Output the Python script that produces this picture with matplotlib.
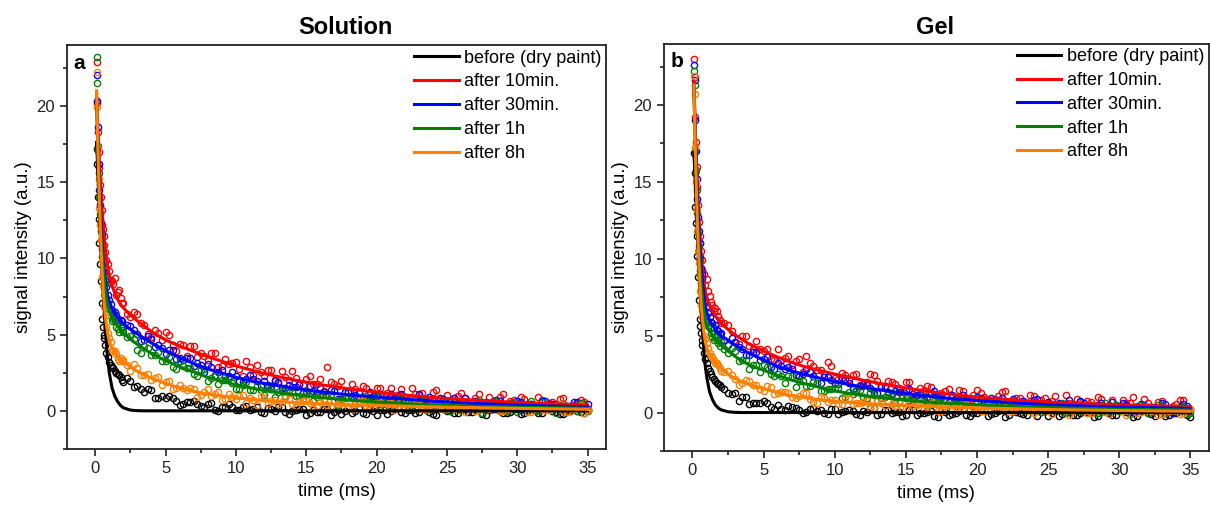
import numpy as np
import matplotlib.pyplot as plt
from matplotlib.ticker import MultipleLocator

plt.rcParams['font.family'] = ['Liberation Sans', 'DejaVu Sans']

labels = ['before (dry paint)', 'after 10min.', 'after 30min.', 'after 1h', 'after 8h']
colors = ['#000000', '#ff0000', '#0000ff', '#008000', '#ff8000']

# times of measured points (ms): two interleaved sets, dense at the start
t_early = [0.1, 0.15, 0.2, 0.3, 0.4, 0.5, 0.6, 0.7, 0.8, 1.0, 1.2, 1.4, 1.6, 1.8]
t_pts = np.concatenate([t_early, np.arange(2.0, 35.01, 0.5)])
t_early2 = [0.25, 0.35, 0.45, 0.55, 0.65, 0.9, 1.1, 1.3, 1.5, 1.7, 1.9]
t_pts2 = np.concatenate([t_early2, np.arange(2.25, 34.76, 0.5)])

t_fit = [0.1, 0.2, 0.3, 0.4, 0.5, 0.6, 0.7, 0.8, 0.9, 1.0, 1.2, 1.4, 1.6, 1.8, 2.0,
         2.5, 3, 3.5, 4, 5, 6, 7, 8, 10, 12, 14, 16, 18, 20, 23, 26, 30, 35]

# ---- Solution: measured points (set 1 on t_pts, set 2 on t_pts2) ----
sol_black = [17.2, 16.2, 14.0, 11.0, 8.5, 6.0, 5.0, 4.3, 3.8, 3.2, 2.9, 2.6, 2.4, 2.2,
             1.88, 1.98, 1.6, 1.25, 1.35, 0.85, 0.85, 0.87, 0.37, 0.61, 0.67, 0.3, 0.47, 0.07,
             0.27, 0.46, 0.03, 0.22, 0.08, 0.26, -0.13, 0.12, 0.25, -0.08, 0.02, 0.1, -0.27,
             0.07, -0.1, 0.15, -0.05, -0.2, 0.2, 0.0, -0.13, 0.13, -0.25, 0.05, -0.03, 0.17,
             -0.17, 0.03, -0.1, 0.1, -0.23, 0.2, 0.0, -0.15, 0.07, -0.07, 0.15, -0.2, 0.03,
             0.13, -0.13, -0.05, 0.1, -0.17, 0.1, -0.13, 0.17, -0.03, -0.23, 0.05, 0.2, -0.1, 0.03]
sol_black2 = [12.6, 9.6, 7.1, 5.5, 4.8, 3.5, 3.0, 2.8, 2.45, 2.35, 2.0,
              2.17, 1.59, 1.45, 1.4, 0.87, 1.0, 0.98, 0.63, 0.42, 0.61, 0.43, 0.25, 0.49, 0.02,
              0.25, 0.26, 0.03, 0.31, 0.11, -0.08, 0.17, -0.01, 0.24, -0.19,
              0.03, 0.1, -0.17, -0.05, 0.13, -0.27, 0.05, 0.0, -0.13, 0.2, -0.2, -0.03, 0.07,
              -0.23, 0.15, -0.07, 0.03, -0.15, 0.17, -0.05, -0.25, 0.1, 0.0, -0.17, 0.13, -0.1,
              0.05, -0.3, 0.1, -0.03, -0.13, 0.15, -0.2, 0.03, 0.07, -0.15, 0.2, -0.07, -0.23,
              0.05, 0.0, -0.17]
sol_red = [22.9, 20.2, 18.3, 15.9, 14.0, 12.2, 11.5, 10.4, 9.9, 9.2, 8.5, 8.7, 7.8, 7.4,
           7.05, 6.15, 6.35, 5.6, 4.85, 5.1, 5.15, 4.35, 4.4, 3.6, 4.25, 3.8, 3.35, 3.8, 2.95,
           3.1, 3.2, 2.3, 2.85, 3.0, 2.3, 2.65, 1.85, 2.25, 2.6, 1.7, 2.08, 1.75, 2.07, 2.85,
           1.73, 1.95, 1.25, 1.44, 1.63, 0.83, 1.47, 1.07, 1.52, 1.07, 0.73, 1.49, 1.05, 0.76,
           1.23, 0.45, 1.01, 0.83, 1.2, 0.47, 0.84, 0.57, 0.94, 0.27, 1.1, 0.67, 0.35, 0.78,
           0.46, 0.9, 0.18, 0.61, 0.79, 0.28, 0.41, 0.7, 0.13]
sol_red2 = [17.0, 14.8, 13.2, 11.9, 10.9, 9.6, 8.6, 8.3, 7.6, 7.9, 7.1,
            6.32, 6.5, 5.77, 5.07, 5.3, 4.67, 5.0, 3.95, 4.3, 4.27, 3.55, 3.62, 3.82, 2.87,
            3.37, 3.12, 2.72, 3.25, 2.32, 2.55, 2.65, 1.95, 2.6, 2.05, 2.15, 1.71, 2.29, 1.76,
            1.28, 1.91, 1.64, 1.22, 1.77, 1.26, 1.5, 0.75, 1.49, 1.19, 0.94, 1.45, 0.71, 1.12,
            1.18, 0.7, 1.36, 0.78, 0.45, 0.96, 0.83, 0.45, 1.13, 0.5, 0.63, 0.91, 0.18, 0.71,
            0.89, 0.42, 0.2, 0.74, 0.52, 0.27, 0.84, -0.03, 0.5, 0.59]
sol_blue = [22.0, 20.3, 18.6, 14.5, 12.3, 10.6, 9.8, 8.6, 8.1, 7.3, 6.6, 6.5, 6.0, 5.95,
            5.52, 5.56, 5.05, 4.65, 4.7, 4.3, 3.74, 4.0, 3.46, 3.48, 2.96, 2.99, 3.1, 2.35,
            2.67, 2.26, 2.3, 1.92, 2.32, 1.94, 1.94, 1.44, 1.9, 1.47, 1.57, 1.78, 1.16, 1.31,
            1.53, 1.13, 1.33, 0.78, 1.26, 1.05, 0.83, 1.25, 1.0, 0.61, 1.08, 0.76, 0.91, 0.55,
            1.09, 0.74, 0.36, 0.82, 0.48, 0.87, 0.62, 0.15, 0.66, 0.46, 0.23, 0.7, 0.26, 0.46,
            0.63, 0.04, 0.45, 0.26, 0.67, 0.45, 0.04, 0.32, 0.59, 0.16, 0.46]
sol_blue2 = [16.2, 13.5, 11.6, 10.3, 9.1, 7.6, 7.0, 6.4, 6.3, 5.8, 5.9,
             5.66, 5.27, 4.58, 4.88, 4.18, 4.11, 4.01, 3.4, 3.33, 3.45, 3.11, 2.55, 2.88, 2.53,
             2.3, 2.58, 1.97, 2.12, 2.09, 1.6, 1.72, 2.03, 1.47, 1.71, 1.56, 1.19, 1.62, 1.18,
             1.26, 1.38, 0.77, 1.21, 0.96, 1.24, 0.77, 0.98, 1.09, 0.56, 0.81, 1.1, 0.61, 0.81,
             0.64, 0.93, 0.37, 0.77, 0.6, 0.32, 0.86, 0.39, 0.54, 0.59, 0.11, 0.66, 0.39, 0.2,
             0.58, 0.45, 0.06, 0.64, 0.24, 0.48, 0.08, 0.31, 0.55, 0.11]
sol_green = [23.2, 21.5, 17.4, 14.0, 11.8, 10.1, 8.8, 8.3, 7.2, 6.7, 5.9, 5.9, 5.4, 5.5,
             5.14, 4.94, 3.99, 4.25, 3.67, 3.84, 3.3, 2.86, 3.3, 2.8, 2.43, 2.68, 1.93, 2.26,
             1.99, 2.16, 1.45, 1.68, 1.39, 1.62, 1.02, 1.64, 1.25, 0.95, 1.25, 0.96, 1.27, 0.66,
             0.97, 1.09, 0.65, 0.73, 0.94, 0.47, 0.88, 0.49, 0.94, 0.59, 0.25, 0.66, 0.88, 0.37,
             0.55, 0.05, 0.67, 0.45, 0.19, 0.66, 0.08, 0.31, 0.5, -0.11, 0.4, 0.63, 0.14, 0.49,
             -0.08, 0.31, 0.66, 0.01, 0.37, 0.16, 0.47, -0.09, 0.3, 0.54, 0.01]
sol_green2 = [15.6, 12.9, 10.9, 9.6, 8.4, 7.0, 6.2, 6.0, 5.5, 5.2, 5.3,
              4.82, 4.68, 3.8, 4.14, 3.67, 3.29, 3.52, 2.76, 2.93, 2.83, 2.31, 2.72, 2.13, 1.74,
              2.03, 1.83, 1.45, 1.92, 1.35, 1.38, 1.54, 0.91, 1.29, 1.39, 0.97, 0.76, 1.15, 0.94,
              0.69, 1.13, 0.41, 0.81, 0.86, 0.51, 0.96, 0.65, 0.33, 0.74, 0.44, 0.85, 0.15, 0.56,
              0.66, 0.2, 0.38, 0.64, -0.01, 0.49, 0.4, 0.19, 0.7, 0.05, 0.32, 0.47, -0.02, 0.57,
              0.2, 0.35, 0.06, 0.57, 0.21, -0.12, 0.43, 0.27, -0.02, 0.46]
sol_orange = [22.2, 19.9, 17.2, 13.3, 11.2, 8.8, 7.6, 6.2, 5.5, 4.8, 4.0, 3.9, 3.4, 3.45,
              3.35, 2.63, 2.78, 2.38, 2.03, 2.24, 1.89, 1.44, 1.71, 1.36, 1.4, 1.04, 1.43, 1.09,
              0.73, 1.09, 0.76, 1.07, 0.85, 0.41, 0.82, 0.64, 0.43, 0.82, 0.43, 0.59, 0.71, 0.21,
              0.55, 0.38, 0.73, 0.53, 0.19, 0.42, 0.64, 0.27, 0.53, 0.19, 0.51, 0.32, 0.22, 0.51,
              0.37, 0.09, 0.5, 0.22, 0.39, 0.12, 0.28, 0.51, -0.01, 0.38, 0.13, 0.27, 0.02, 0.44,
              0.19, 0.27, -0.09, 0.35, 0.04, 0.19, 0.42, -0.06, 0.11, 0.35, 0.04]
sol_orange2 = [15.2, 12.2, 9.9, 8.2, 6.9, 5.1, 4.5, 3.9, 3.7, 3.3, 3.3,
               3.02, 3.05, 2.35, 2.4, 2.15, 1.7, 1.96, 1.48, 1.47, 1.51, 0.93, 1.26, 1.0, 1.21,
               0.79, 0.94, 1.0, 0.54, 0.73, 0.96, 0.53, 0.71, 0.56, 0.8, 0.33, 0.66, 0.52, 0.29,
               0.75, 0.34, 0.48, 0.52, 0.12, 0.59, 0.36, 0.2, 0.52, 0.42, 0.08, 0.58, 0.24, 0.44,
               0.09, 0.29, 0.49, 0.12, 0.36, 0.29, -0.06, 0.44, 0.08, 0.22, 0.33, -0.01, 0.11,
               0.37, 0.24, -0.09, 0.32, 0.13, 0.04, 0.39, -0.04, 0.17, 0.23, -0.11]

# ---- Solution: fitted curves ----
sol_black_fit = [17.6, 15.5, 13.0, 10.8, 8.9, 7.2, 5.6, 4.3, 3.3, 2.5, 1.5, 0.95, 0.6, 0.35, 0.2,
                 0.05, 0.01, 0, 0, 0, 0, 0, 0, 0, 0, 0, 0, 0, 0, 0, 0, 0, 0]
sol_red_fit = [20.8, 18.5, 16.3, 14.5, 13.0, 11.8, 10.8, 10.0, 9.4, 8.9, 8.2, 7.7, 7.3, 7.0, 6.75,
               6.3, 5.9, 5.55, 5.2, 4.65, 4.25, 3.9, 3.55, 2.95, 2.45, 2.05, 1.72, 1.45, 1.22,
               0.95, 0.75, 0.55, 0.38]
sol_blue_fit = [20.5, 17.5, 14.8, 12.6, 10.9, 9.6, 8.7, 8.0, 7.5, 7.15, 6.7, 6.4, 6.1, 5.9, 5.7,
                5.35, 5.05, 4.75, 4.45, 3.95, 3.5, 3.1, 2.75, 2.2, 1.8, 1.5, 1.25, 1.05, 0.9,
                0.7, 0.52, 0.38, 0.25]
sol_green_fit = [20.2, 17.0, 14.2, 12.0, 10.3, 9.0, 8.1, 7.4, 6.9, 6.55, 6.1, 5.8, 5.55, 5.3, 5.1,
                 4.7, 4.35, 4.05, 3.75, 3.3, 2.9, 2.55, 2.2, 1.7, 1.33, 1.07, 0.87, 0.71, 0.58,
                 0.43, 0.32, 0.24, 0.17]
sol_orange_fit = [21.0, 17.0, 13.7, 11.0, 9.0, 7.5, 6.4, 5.6, 5.0, 4.6, 4.1, 3.8, 3.55, 3.35, 3.2,
                  2.9, 2.6, 2.35, 2.15, 1.8, 1.5, 1.28, 1.1, 0.85, 0.67, 0.55, 0.46, 0.4, 0.35,
                  0.28, 0.22, 0.16, 0.1]

# ---- Gel: measured points ----
gel_black = [16.9, 15.6, 13.4, 11.5, 8.8, 6.1, 5.2, 4.4, 3.9, 3.2, 2.7, 2.3, 2.05, 1.85,
             1.68, 1.25, 1.3, 1.0, 0.57, 0.65, 0.74, 0.35, 0.5, 0.16, 0.37, 0.17, 0.05, 0.28,
             0.15, -0.1, 0.23, 0.01, 0.15, -0.07, 0.08, 0.28, -0.15, 0.18, -0.02, 0.03, -0.17,
             0.17, -0.03, 0.05, -0.25, 0.13, -0.13, 0.0, 0.2, -0.2, -0.05, 0.15, -0.1, 0.07,
             -0.27, 0.1, -0.03, -0.15, 0.17, 0.03, -0.23, 0.13, -0.07, 0.05, -0.17, 0.23, 0.0,
             -0.25, 0.1, -0.13, 0.17, 0.03, -0.3, 0.07, -0.05, -0.2, 0.15, -0.15, 0.0, 0.13, -0.27]
gel_black2 = [12.3, 10.2, 7.3, 5.6, 4.7, 3.5, 2.9, 2.5, 2.2, 1.9, 1.8,
              1.55, 1.22, 0.75, 1.02, 0.59, 0.59, 0.59, 0.24, 0.26, 0.43, 0.27, -0.05, 0.26,
              0.08, -0.02, 0.26, -0.09, 0.08, 0.13, -0.15, 0.01, 0.28, -0.07, 0.15,
              0.03, -0.2, 0.15, -0.13, -0.03, 0.1, -0.3, 0.05, -0.1, 0.13, -0.17, 0.0, 0.1,
              -0.25, -0.05, 0.17, -0.15, 0.03, -0.07, 0.15, -0.23, 0.07, -0.03, -0.2, 0.2,
              -0.13, 0.0, 0.05, -0.27, 0.13, -0.05, -0.17, 0.1, 0.03, -0.25, 0.17, -0.1, 0.07,
              -0.2, -0.03, 0.15, -0.15]
gel_red = [23.0, 21.8, 19.2, 16.0, 13.5, 11.5, 10.5, 9.3, 9.0, 8.7, 7.6, 7.0, 6.8, 6.3,
           5.85, 5.7, 4.6, 5.0, 4.35, 4.62, 4.0, 3.5, 4.1, 3.52, 3.1, 3.45, 3.65, 3.03, 2.77,
           3.3, 2.25, 2.55, 2.2, 2.5, 1.75, 2.51, 2.02, 1.63, 2.0, 1.62, 2.0, 1.22, 1.6, 1.74,
           1.17, 1.26, 1.5, 0.9, 1.4, 0.9, 1.45, 1.02, 0.58, 1.1, 1.37, 0.73, 0.95, 0.32, 1.09,
           0.81, 0.48, 1.06, 0.33, 0.61, 0.85, 0.08, 0.71, 1.0, 0.38, 0.82, 0.1, 0.59, 1.03,
           0.21, 0.65, 0.39, 0.78, 0.06, 0.55, 0.84, 0.18]
gel_red2 = [17.6, 14.7, 12.4, 11.0, 9.9, 8.3, 7.9, 7.2, 6.6, 6.6, 6.0,
            5.8, 5.32, 4.45, 5.0, 4.13, 4.16, 4.15, 3.4, 3.41, 3.68, 3.32, 2.62, 3.19, 2.77,
            2.51, 3.0, 2.2, 2.45, 2.45, 1.8, 2.0, 2.46, 1.67, 2.04, 1.86, 1.33, 1.96, 1.33,
            1.47, 1.65, 0.79, 1.43, 1.07, 1.47, 0.82, 1.12, 1.28, 0.55, 0.91, 1.33, 0.65, 0.96,
            0.73, 1.15, 0.37, 0.94, 0.72, 0.34, 1.12, 0.45, 0.69, 0.77, 0.1, 0.89, 0.52, 0.26,
            0.79, 0.63, 0.07, 0.9, 0.34, 0.68, 0.12, 0.45, 0.79, 0.18]
gel_blue = [22.6, 21.6, 19.0, 15.2, 12.7, 11.0, 9.4, 8.7, 7.5, 6.9, 6.2, 5.8, 5.7, 5.3,
            5.18, 4.38, 4.61, 4.14, 3.71, 3.94, 3.5, 2.95, 3.25, 2.81, 2.84, 2.39, 2.84, 2.4,
            1.94, 2.32, 1.9, 2.23, 1.92, 1.38, 1.83, 1.57, 1.29, 1.7, 1.21, 1.36, 1.48, 0.85,
            1.22, 1.0, 1.37, 1.11, 0.68, 0.93, 1.17, 0.71, 0.99, 0.57, 0.93, 0.69, 0.56, 0.88,
            0.7, 0.37, 0.84, 0.5, 0.7, 0.36, 0.54, 0.81, 0.19, 0.64, 0.34, 0.5, 0.21, 0.7, 0.4,
            0.49, 0.06, 0.58, 0.22, 0.38, 0.65, 0.08, 0.28, 0.56, 0.2]
gel_blue2 = [17.0, 13.9, 11.8, 10.1, 9.0, 7.2, 6.5, 5.9, 5.5, 5.4, 5.1,
             4.71, 4.83, 4.29, 3.76, 3.91, 3.44, 3.62, 2.82, 3.02, 2.98, 2.45, 2.51, 2.64, 1.95,
             2.3, 2.12, 1.85, 2.21, 1.56, 1.73, 1.79, 1.28, 1.74, 1.34, 1.42, 1.12, 1.52, 1.14,
             0.81, 1.25, 1.06, 0.77, 1.16, 0.8, 0.97, 0.45, 0.97, 0.77, 0.6, 0.95, 0.43, 0.71,
             0.77, 0.43, 0.9, 0.49, 0.26, 0.62, 0.53, 0.27, 0.75, 0.32, 0.4, 0.6, 0.1, 0.47,
             0.6, 0.27, 0.12, 0.5, 0.35, 0.16, 0.57, -0.04, 0.35, 0.41]
gel_green = [22.2, 21.3, 17.0, 14.5, 11.7, 9.9, 8.4, 7.7, 6.6, 5.9, 5.5, 4.9, 4.9, 4.5,
             4.61, 3.9, 3.97, 3.39, 2.85, 3.06, 3.1, 2.5, 2.5, 1.93, 2.35, 2.04, 1.71, 2.01,
             1.41, 1.51, 1.58, 0.97, 1.35, 1.49, 1.0, 1.26, 0.72, 1.02, 1.29, 0.67, 0.95, 0.72,
             0.97, 0.44, 0.76, 0.95, 0.46, 0.61, 0.76, 0.2, 0.68, 0.41, 0.74, 0.44, 0.21, 0.75,
             0.45, 0.27, 0.6, 0.06, 0.47, 0.35, 0.62, 0.11, 0.38, 0.2, 0.47, 0.0, 0.59, 0.3,
             0.08, 0.39, 0.17, 0.48, -0.02, 0.29, 0.43, 0.08, 0.17, 0.38, -0.02]
gel_green2 = [15.8, 13.0, 10.8, 9.2, 8.0, 6.2, 5.6, 5.2, 4.7, 4.7, 4.3,
              4.16, 4.17, 3.36, 3.4, 3.11, 2.62, 2.94, 2.38, 2.36, 2.38, 1.68, 2.05, 1.72, 1.92,
              1.38, 1.52, 1.57, 1.0, 1.21, 1.45, 0.93, 1.12, 0.93, 1.2, 0.62, 1.01, 0.82, 0.53,
              1.05, 0.57, 0.71, 0.75, 0.26, 0.81, 0.53, 0.33, 0.7, 0.57, 0.17, 0.75, 0.34, 0.57,
              0.16, 0.4, 0.62, 0.19, 0.46, 0.37, -0.03, 0.56, 0.13, 0.3, 0.43, 0.03, 0.16, 0.47,
              0.31, -0.07, 0.41, 0.2, 0.09, 0.5, 0.0, 0.24, 0.31, -0.09]
gel_orange = [21.9, 20.7, 17.3, 13.2, 10.5, 8.9, 7.0, 6.2, 5.0, 4.5, 3.9, 3.6, 3.2, 3.1,
              2.7, 2.68, 2.2, 1.91, 2.03, 1.77, 1.37, 1.66, 1.27, 1.35, 0.98, 1.08, 1.25, 0.68,
              1.01, 0.71, 0.81, 0.53, 0.92, 0.64, 0.7, 0.32, 0.75, 0.43, 0.56, 0.78, 0.28, 0.44,
              0.66, 0.34, 0.54, 0.1, 0.54, 0.37, 0.21, 0.58, 0.39, 0.08, 0.49, 0.24, 0.38, 0.1,
              0.57, 0.29, -0.02, 0.39, 0.11, 0.46, 0.27, -0.13, 0.32, 0.16, -0.03, 0.39, 0.02,
              0.2, 0.34, -0.15, 0.21, 0.05, 0.41, 0.22, -0.11, 0.12, 0.36, -0.01, 0.26]
gel_orange2 = [15.0, 11.8, 9.7, 7.9, 6.6, 4.8, 4.2, 3.7, 3.4, 3.2, 2.9,
               2.61, 2.47, 1.8, 2.09, 1.78, 1.52, 1.72, 1.18, 1.34, 1.3, 0.94, 1.28, 0.89, 0.65,
               0.92, 0.8, 0.55, 0.93, 0.54, 0.59, 0.75, 0.31, 0.62, 0.72, 0.43, 0.29, 0.6, 0.46,
               0.29, 0.63, 0.11, 0.42, 0.47, 0.21, 0.56, 0.33, 0.11, 0.43, 0.21, 0.53, 0.01, 0.33,
               0.41, 0.07, 0.21, 0.41, -0.08, 0.3, 0.23, 0.08, 0.46, -0.03, 0.18, 0.29, -0.07,
               0.37, 0.09, 0.21, -0.01, 0.38, 0.1, -0.14, 0.27, 0.15, -0.07, 0.29]

# ---- Gel: fitted curves ----
gel_black_fit = [16.9, 14.9, 12.6, 10.4, 8.5, 6.8, 5.3, 4.0, 3.0, 2.3, 1.35, 0.85, 0.5, 0.3, 0.18,
                 0.05, 0.01, 0, 0, 0, 0, 0, 0, 0, 0, 0, 0, 0, 0, 0, 0, 0, 0]
gel_red_fit = [21.5, 18.5, 15.8, 13.6, 11.8, 10.4, 9.3, 8.5, 7.9, 7.45, 6.95, 6.6, 6.3, 6.05, 5.8,
               5.4, 5.05, 4.75, 4.45, 4.0, 3.6, 3.25, 2.95, 2.5, 2.1, 1.75, 1.45, 1.2, 1.0,
               0.8, 0.63, 0.5, 0.38]
gel_blue_fit = [21.2, 18.0, 15.2, 12.9, 11.0, 9.6, 8.5, 7.6, 7.0, 6.5, 6.0, 5.7, 5.45, 5.2, 5.0,
                4.7, 4.4, 4.1, 3.85, 3.4, 3.0, 2.7, 2.45, 2.0, 1.65, 1.35, 1.12, 0.93, 0.78,
                0.6, 0.47, 0.36, 0.27]
gel_green_fit = [20.8, 17.3, 14.3, 11.9, 10.0, 8.6, 7.5, 6.7, 6.1, 5.7, 5.3, 5.05, 4.8, 4.6, 4.4,
                 4.0, 3.65, 3.35, 3.1, 2.75, 2.4, 2.1, 1.85, 1.4, 1.1, 0.9, 0.72, 0.6, 0.5,
                 0.38, 0.3, 0.22, 0.16]
gel_orange_fit = [21.3, 17.0, 13.5, 10.8, 8.7, 7.1, 6.0, 5.2, 4.6, 4.2, 3.8, 3.5, 3.25, 3.05, 2.85,
                  2.5, 2.2, 2.0, 1.82, 1.55, 1.3, 1.1, 0.95, 0.72, 0.58, 0.5, 0.42, 0.36, 0.3,
                  0.24, 0.18, 0.13, 0.08]

sol_pts = [(sol_black, sol_black2), (sol_red, sol_red2), (sol_blue, sol_blue2),
           (sol_green, sol_green2), (sol_orange, sol_orange2)]
sol_fits = [sol_black_fit, sol_red_fit, sol_blue_fit, sol_green_fit, sol_orange_fit]
gel_pts = [(gel_black, gel_black2), (gel_red, gel_red2), (gel_blue, gel_blue2),
           (gel_green, gel_green2), (gel_orange, gel_orange2)]
gel_fits = [gel_black_fit, gel_red_fit, gel_blue_fit, gel_green_fit, gel_orange_fit]

fig = plt.figure(figsize=(12.1, 5.09), dpi=100)
ax1 = fig.add_axes([0.0554, 0.118, 0.4454, 0.7936])
ax2 = fig.add_axes([0.5488, 0.114, 0.4502, 0.8005])


def draw(ax, pts, fits, letter):
    for (y1, y2), c in zip(pts, colors):
        x = np.concatenate([t_pts, t_pts2])
        y = np.concatenate([y1, y2])
        ax.plot(x, y, 'o', mfc='none', mec=c, ms=4.5, mew=1.0, zorder=2)
    handles = []
    for y, c, lab in zip(fits, colors, labels):
        h, = ax.plot(t_fit, y, '-', color=c, lw=2.2, label=lab, zorder=3)
        handles.append(h)
    ax.set_xlim(-2, 36.3)
    ax.set_ylim(-2.5, 24)
    ax.xaxis.set_major_locator(MultipleLocator(5))
    ax.xaxis.set_minor_locator(MultipleLocator(2.5))
    ax.yaxis.set_major_locator(MultipleLocator(5))
    ax.yaxis.set_minor_locator(MultipleLocator(2.5))
    ax.tick_params(which='both', direction='out', width=1.2, labelsize=12, colors='#222222')
    ax.tick_params(which='major', length=5)
    ax.tick_params(which='minor', length=3)
    for s in ax.spines.values():
        s.set_linewidth(1.3)
        s.set_color('#222222')
    ax.set_xlabel('time (ms)', fontsize=13.5, labelpad=5)
    ax.set_ylabel('signal intensity (a.u.)', fontsize=13.5, labelpad=3)
    ax.text(0.012, 0.978, letter, transform=ax.transAxes, fontsize=15, fontweight='bold',
            va='top', ha='left')
    ax.legend(handles=handles, loc='upper right', frameon=False, fontsize=13,
              handlelength=2.45, handletextpad=0.3, labelspacing=0.38,
              borderaxespad=0.1, borderpad=0.15)


draw(ax1, sol_pts, sol_fits, 'a')
draw(ax2, gel_pts, gel_fits, 'b')

fig.text(345 / 1210, 1 - 28 / 509, 'Solution', fontsize=17, fontweight='bold',
         ha='center', va='center')
fig.text(935 / 1210, 1 - 28 / 509, 'Gel', fontsize=17, fontweight='bold',
         ha='center', va='center')

fig.savefig('out.png', dpi=100)
